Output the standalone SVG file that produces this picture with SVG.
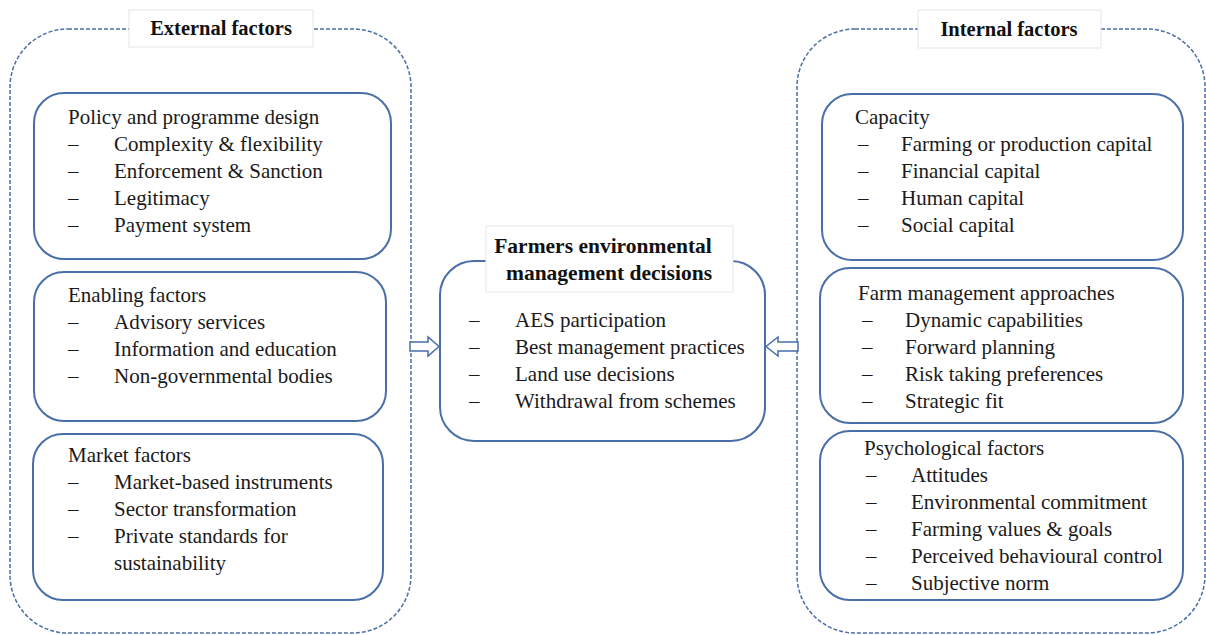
<svg xmlns="http://www.w3.org/2000/svg" width="1206" height="635" viewBox="0 0 1206 635">
<style>
.outer{fill:none;stroke:#4a6ea8;stroke-width:1.5;stroke-dasharray:4 2}
.box{fill:#fff;stroke:#4a6ea8;stroke-width:2}
.t{font-family:"Liberation Serif",serif;font-size:21px;fill:#1a1a1a}
.h{font-family:"Liberation Serif",serif;font-size:20.5px;font-weight:bold;fill:#111}
.hc{font-family:"Liberation Serif",serif;font-size:21.5px;font-weight:bold;fill:#111}
.lbl{fill:#fff;stroke:#e6e6e6;stroke-width:1}
.arr{fill:#fff;stroke:#4a6ea8;stroke-width:1.5}
</style>
<rect width="1206" height="635" fill="#fff"/>
<g id="external">
<rect class="outer" x="10" y="29" width="401" height="604" rx="58"/>
<rect class="lbl" x="129" y="10" width="184" height="37"/>
<text class="h" x="221" y="35" text-anchor="middle">External factors</text>
</g>
<g id="internal">
<rect class="outer" x="797" y="29" width="408" height="604" rx="58"/>
<rect class="lbl" x="918" y="10" width="183" height="38"/>
<text class="h" x="1009" y="36" text-anchor="middle">Internal factors</text>
</g>
<g id="policy">
<rect class="box" x="34" y="93" width="357" height="166" rx="30"/>
<text class="t" x="68" y="124">Policy and programme design</text>
<text class="t" x="68" y="151">–</text><text class="t" x="114" y="151">Complexity &amp; flexibility</text>
<text class="t" x="68" y="178">–</text><text class="t" x="114" y="178">Enforcement &amp; Sanction</text>
<text class="t" x="68" y="205">–</text><text class="t" x="114" y="205">Legitimacy</text>
<text class="t" x="68" y="232">–</text><text class="t" x="114" y="232">Payment system</text>
</g>
<g id="enabling">
<rect class="box" x="34" y="272" width="352" height="149" rx="30"/>
<text class="t" x="68" y="302">Enabling factors</text>
<text class="t" x="68" y="329">–</text><text class="t" x="114" y="329">Advisory services</text>
<text class="t" x="68" y="356">–</text><text class="t" x="114" y="356">Information and education</text>
<text class="t" x="68" y="383">–</text><text class="t" x="114" y="383">Non-governmental bodies</text>
</g>
<g id="market">
<rect class="box" x="33" y="434" width="350" height="166" rx="30"/>
<text class="t" x="68" y="462">Market factors</text>
<text class="t" x="68" y="489">–</text><text class="t" x="114" y="489">Market-based instruments</text>
<text class="t" x="68" y="516">–</text><text class="t" x="114" y="516">Sector transformation</text>
<text class="t" x="68" y="543">–</text><text class="t" x="114" y="543">Private standards for</text>
<text class="t" x="114" y="570">sustainability</text>
</g>
<g id="capacity">
<rect class="box" x="822" y="94" width="361" height="166" rx="30"/>
<text class="t" x="855" y="124">Capacity</text>
<text class="t" x="858" y="151">–</text><text class="t" x="901" y="151">Farming or production capital</text>
<text class="t" x="858" y="178">–</text><text class="t" x="901" y="178">Financial capital</text>
<text class="t" x="858" y="205">–</text><text class="t" x="901" y="205">Human capital</text>
<text class="t" x="858" y="232">–</text><text class="t" x="901" y="232">Social capital</text>
</g>
<g id="farm-management">
<rect class="box" x="820" y="268" width="363" height="155" rx="30"/>
<text class="t" x="858" y="300">Farm management approaches</text>
<text class="t" x="862" y="327">–</text><text class="t" x="905" y="327">Dynamic capabilities</text>
<text class="t" x="862" y="354">–</text><text class="t" x="905" y="354">Forward planning</text>
<text class="t" x="862" y="381">–</text><text class="t" x="905" y="381">Risk taking preferences</text>
<text class="t" x="862" y="408">–</text><text class="t" x="905" y="408">Strategic fit</text>
</g>
<g id="psychological">
<rect class="box" x="820" y="431" width="363" height="169" rx="30"/>
<text class="t" x="864" y="455">Psychological factors</text>
<text class="t" x="866" y="482">–</text><text class="t" x="911" y="482">Attitudes</text>
<text class="t" x="866" y="509">–</text><text class="t" x="911" y="509">Environmental commitment</text>
<text class="t" x="866" y="536">–</text><text class="t" x="911" y="536">Farming values &amp; goals</text>
<text class="t" x="866" y="563">–</text><text class="t" x="911" y="563">Perceived behavioural control</text>
<text class="t" x="866" y="590">–</text><text class="t" x="911" y="590">Subjective norm</text>
</g>
<g id="decisions">
<rect class="box" x="440" y="261" width="325" height="180" rx="34"/>
<rect fill="#fff" stroke="#e8e8e8" stroke-width="1" x="486" y="226" width="247" height="66"/>
<text class="hc" x="603" y="253" text-anchor="middle">Farmers environmental</text>
<text class="hc" x="609" y="280" text-anchor="middle">management decisions</text>
<text class="t" x="469" y="327">–</text><text class="t" x="515" y="327">AES participation</text>
<text class="t" x="469" y="354">–</text><text class="t" x="515" y="354">Best management practices</text>
<text class="t" x="469" y="381">–</text><text class="t" x="515" y="381">Land use decisions</text>
<text class="t" x="469" y="408">–</text><text class="t" x="515" y="408">Withdrawal from schemes</text>
</g>
<g id="connectors">
<path class="arr" d="M410,342 L428,342 L428,337 L439,346.5 L428,356 L428,351 L410,351 Z"/>
<path class="arr" d="M798,342 L778,342 L778,337 L766,346.5 L778,356 L778,351 L798,351 Z"/>
</g>
</svg>
